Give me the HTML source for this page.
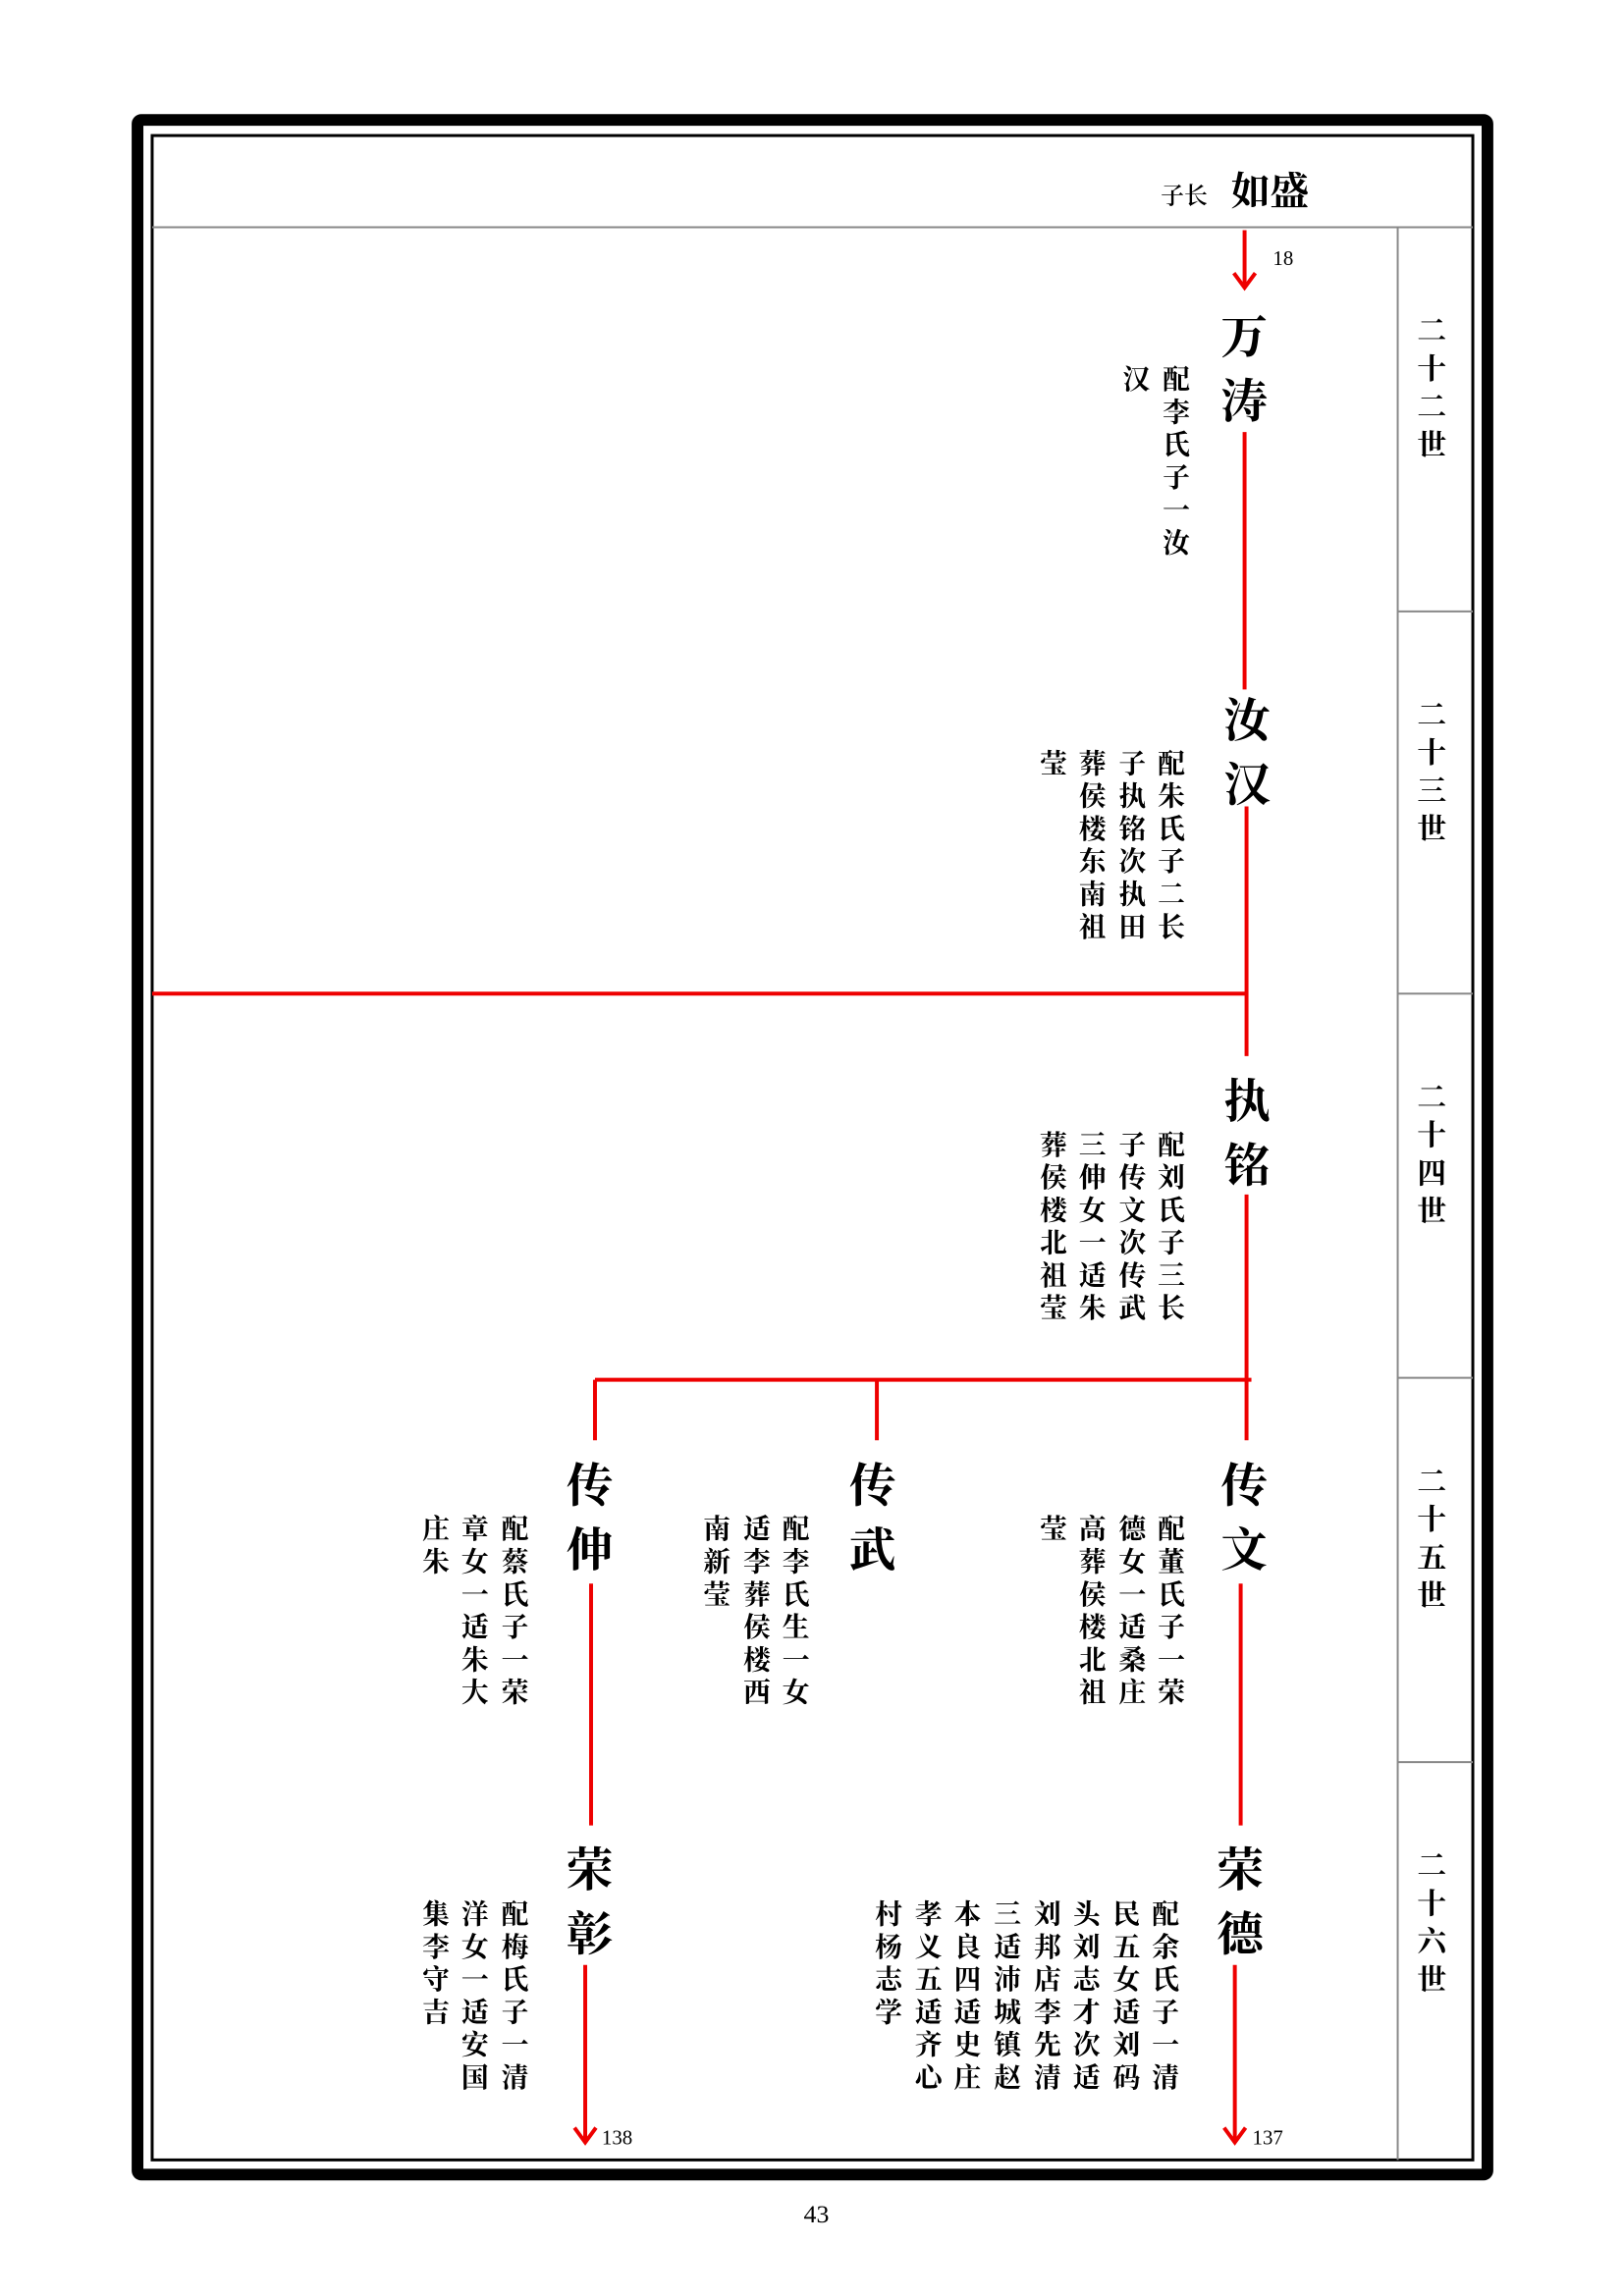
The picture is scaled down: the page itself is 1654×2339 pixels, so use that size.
<!DOCTYPE html>
<html><head><meta charset="utf-8">
<style>
html,body{margin:0;padding:0;background:#fff}
#w{position:relative;width:1654px;height:2339px;overflow:hidden}
#p{position:absolute;left:0;top:0;width:1654px;height:2339px;transform:scale(0.9934);transform-origin:0 0;font-family:"Liberation Serif","Noto Serif CJK SC",serif;color:#000}
.v{position:absolute;writing-mode:vertical-rl;font-size:28px;line-height:28px;width:28px;letter-spacing:5.5px;font-weight:700;white-space:nowrap}
.n{position:absolute;writing-mode:vertical-rl;font-size:48px;line-height:48px;width:48px;letter-spacing:18px;font-weight:700;white-space:nowrap}
.g{position:absolute;writing-mode:vertical-rl;font-size:30px;line-height:30px;width:30px;letter-spacing:9px;font-weight:700;white-space:nowrap;left:1449px}
.t{position:absolute;font-size:22px;line-height:22px;white-space:nowrap}
svg{position:absolute;left:0;top:0}
</style></head><body><div id="w"><div id="p">
<svg width="1654" height="2339">
<rect x="141" y="123" width="1384" height="2107" rx="4" fill="none" stroke="#000" stroke-width="12"/>
<rect x="156" y="139" width="1354" height="2076" fill="none" stroke="#000" stroke-width="3"/>
<line x1="156" y1="233" x2="1510" y2="233" stroke="#888" stroke-width="2"/>
<line x1="1433" y1="233" x2="1433" y2="2215" stroke="#888" stroke-width="2"/>
<g stroke="#888" stroke-width="2">
<line x1="1433" y1="627" x2="1510" y2="627"/>
<line x1="1433" y1="1019" x2="1510" y2="1019"/>
<line x1="1433" y1="1413" x2="1510" y2="1413"/>
<line x1="1433" y1="1807" x2="1510" y2="1807"/>
</g>
<g stroke="#e00" stroke-width="4" fill="none">
<line x1="1276" y1="236" x2="1276" y2="294"/>
<polyline points="1265,280 1276,295 1287,280"/>
<line x1="1276" y1="443" x2="1276" y2="707"/>
<line x1="1278" y1="827" x2="1278" y2="1083"/>
<line x1="156" y1="1019" x2="1278" y2="1019"/>
<line x1="1278" y1="1225" x2="1278" y2="1415"/>
<line x1="610" y1="1415" x2="1283" y2="1415"/>
<line x1="610" y1="1415" x2="610" y2="1477"/>
<line x1="899" y1="1415" x2="899" y2="1477"/>
<line x1="1278" y1="1415" x2="1278" y2="1477"/>
<line x1="606" y1="1624" x2="606" y2="1872"/>
<line x1="1272" y1="1624" x2="1272" y2="1872"/>
<line x1="600" y1="2015" x2="600" y2="2196"/>
<polyline points="589,2182 600,2197 611,2182"/>
<line x1="1266" y1="2015" x2="1266" y2="2196"/>
<polyline points="1255,2182 1266,2197 1277,2182"/>
</g>
</svg>
<div class="t" style="left:1190px;top:188px;font-size:24px;font-family:'Noto Serif CJK SC',serif;font-weight:600">子长</div>
<div class="t" style="left:1262px;top:172px;font-size:40px;line-height:44px;font-family:'Noto Serif CJK SC',serif;font-weight:700">如盛</div>
<div class="t" style="left:1305px;top:254px;font-size:21px">18</div>

<div class="g" style="top:323px">二十二世</div>
<div class="g" style="top:717px">二十三世</div>
<div class="g" style="top:1109px">二十四世</div>
<div class="g" style="top:1503px">二十五世</div>
<div class="g" style="top:1897px">二十六世</div>

<div class="n" style="left:1246px;top:320px">万涛</div>
<div class="v" style="left:1189px;top:374px">配李氏子一汝</div>
<div class="v" style="left:1148px;top:374px">汉</div>

<div class="n" style="left:1249px;top:713px">汝汉</div>
<div class="v" style="left:1184px;top:768px">配朱氏子二长</div>
<div class="v" style="left:1144px;top:768px">子执铭次执田</div>
<div class="v" style="left:1103px;top:768px">葬侯楼东南祖</div>
<div class="v" style="left:1063px;top:768px">莹</div>

<div class="n" style="left:1249px;top:1104px">执铭</div>
<div class="v" style="left:1184px;top:1159px">配刘氏子三长</div>
<div class="v" style="left:1144px;top:1159px">子传文次传武</div>
<div class="v" style="left:1103px;top:1159px">三伸女一适朱</div>
<div class="v" style="left:1063px;top:1159px">葬侯楼北祖莹</div>

<div class="n" style="left:1246px;top:1498px">传文</div>
<div class="v" style="left:1184px;top:1553px">配董氏子一荣</div>
<div class="v" style="left:1144px;top:1553px">德女一适桑庄</div>
<div class="v" style="left:1103px;top:1553px">高葬侯楼北祖</div>
<div class="v" style="left:1063px;top:1553px">莹</div>

<div class="n" style="left:865px;top:1498px">传武</div>
<div class="v" style="left:799px;top:1553px">配李氏生一女</div>
<div class="v" style="left:759px;top:1553px">适李葬侯楼西</div>
<div class="v" style="left:718px;top:1553px">南新莹</div>

<div class="n" style="left:575px;top:1498px">传伸</div>
<div class="v" style="left:511px;top:1553px">配蔡氏子一荣</div>
<div class="v" style="left:470px;top:1553px">章女一适朱大</div>
<div class="v" style="left:430px;top:1553px">庄朱</div>

<div class="n" style="left:575px;top:1892px">荣彰</div>
<div class="v" style="left:511px;top:1948px">配梅氏子一清</div>
<div class="v" style="left:470px;top:1948px">洋女一适安国</div>
<div class="v" style="left:430px;top:1948px">集李守吉</div>

<div class="n" style="left:1242px;top:1892px">荣德</div>
<div class="v" style="left:1178px;top:1948px">配余氏子一清</div>
<div class="v" style="left:1138px;top:1948px">民五女适刘码</div>
<div class="v" style="left:1097px;top:1948px">头刘志才次适</div>
<div class="v" style="left:1057px;top:1948px">刘邦店李先清</div>
<div class="v" style="left:1016px;top:1948px">三适沛城镇赵</div>
<div class="v" style="left:975px;top:1948px">本良四适史庄</div>
<div class="v" style="left:935px;top:1948px">孝义五适齐心</div>
<div class="v" style="left:894px;top:1948px">村杨志学</div>

<div class="t" style="left:617px;top:2181px;font-size:21px">138</div>
<div class="t" style="left:1284px;top:2181px;font-size:21px">137</div>
<div class="t" style="left:824px;top:2260px;font-size:26px">43</div>
</div></div></body></html>
